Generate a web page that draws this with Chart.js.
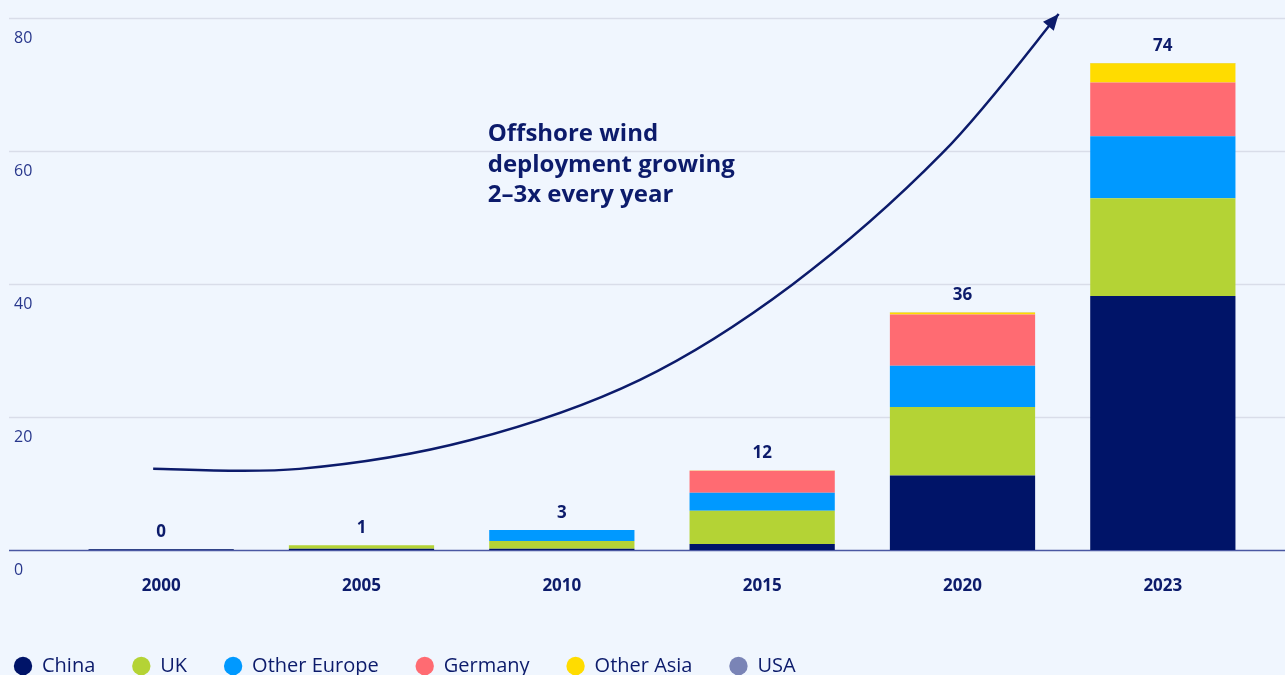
<!DOCTYPE html>
<html>
<head>
<meta charset="utf-8">
<script src="https://cdn.jsdelivr.net/npm/chart.js@4.4.1/dist/chart.umd.min.js"></script>
<style>
  html, body { margin: 0; padding: 0; background: #f0f6fe; overflow: hidden; }
</style>
</head>
<body>
<canvas id="graphic" width="1285" height="686"></canvas>
<script>
const years = ["2000", "2005", "2010", "2015", "2020", "2023"]
const totals = ["0", "1", "3", "12", "36", "74"]
const yTicks = [0, 20, 40, 60, 80]

const china = [0.1, 0.2, 0.2, 0.9, 11.2, 38.2]
const uk = [0, 0.5, 1.15, 5.0, 10.3, 14.7]
const otherEurope = [0, 0, 1.65, 2.7, 6.2, 9.3]
const germany = [0, 0, 0, 3.3, 7.7, 8.1]
const otherAsia = [0, 0, 0, 0.05, 0.3, 2.9]
const usa = [0, 0, 0, 0, 0.05, 0.04]

const noteLines = ["Offshore wind", "deployment growing", "2\u20133x every year"]

const navy = "#0c1b6b"
const font = "'Open Sans', sans-serif"

// arrow path, in (category index, GW) units
const arrowPath = [
  [-0.04, 12.2], [0.69, 12.2], [1.54, 16.5], [2.39, 25.6],
  [3.15, 39.9], [3.90, 59.7], [4.48, 80.6]
]

const overlay = {
  id: "overlay",
  beforeDraw(chart) {
    // move the legend so the first dot lines up with the y labels
    const pad = chart.options.plugins.legend.labels.padding
    chart.legend.left = 14 - pad
  },
  beforeDatasetsDraw(chart) {
    const ctx = chart.ctx
    const y = chart.scales.y
    ctx.save()
    yTicks.forEach(v => {
      const py = Math.round(y.getPixelForValue(v)) + 0.5
      ctx.beginPath()
      ctx.moveTo(9, py)
      ctx.lineTo(chart.width, py)
      ctx.strokeStyle = v === 0 ? "#4a58a2" : "#d9dde9"
      ctx.lineWidth = 1.5
      ctx.stroke()
    })
    ctx.restore()
  },
  afterDatasetsDraw(chart) {
    const ctx = chart.ctx
    const x = chart.scales.x
    const y = chart.scales.y
    ctx.save()

    // totals above bars
    ctx.fillStyle = navy
    ctx.font = "bold 17px " + font
    ctx.textAlign = "center"
    ctx.textBaseline = "middle"
    years.forEach((yr, i) => {
      const sum = china[i] + uk[i] + otherEurope[i] + germany[i] + otherAsia[i] + usa[i]
      ctx.fillText(totals[i], x.getPixelForValue(i), y.getPixelForValue(sum) - 17)
    })

    // note
    ctx.font = "bold 24px " + font
    ctx.textAlign = "left"
    const nx = x.getPixelForValue(1.63)
    const ny = y.getPixelForValue(62.5)
    noteLines.forEach((t, k) => ctx.fillText(t, nx, ny + k * 30.5))

    // curved arrow
    const pts = arrowPath.map(p => [x.getPixelForValue(p[0]), y.getPixelForValue(p[1])])
    ctx.strokeStyle = navy
    ctx.fillStyle = navy
    ctx.lineWidth = 2.5
    ctx.beginPath()
    ctx.moveTo(pts[0][0], pts[0][1])
    for (let i = 0; i < pts.length - 1; i++) {
      const p0 = pts[Math.max(i - 1, 0)]
      const p1 = pts[i]
      const p2 = pts[i + 1]
      const p3 = pts[Math.min(i + 2, pts.length - 1)]
      ctx.bezierCurveTo(
        p1[0] + (p2[0] - p0[0]) / 6, p1[1] + (p2[1] - p0[1]) / 6,
        p2[0] - (p3[0] - p1[0]) / 6, p2[1] - (p3[1] - p1[1]) / 6,
        p2[0], p2[1]
      )
    }
    ctx.stroke()
    const tip = pts[pts.length - 1]
    const prev = pts[pts.length - 2]
    const ang = Math.atan2(tip[1] - prev[1], tip[0] - prev[0])
    ctx.beginPath()
    ctx.moveTo(tip[0], tip[1])
    ctx.lineTo(tip[0] - 16 * Math.cos(ang) + 7 * Math.sin(ang), tip[1] - 16 * Math.sin(ang) - 7 * Math.cos(ang))
    ctx.lineTo(tip[0] - 16 * Math.cos(ang) - 7 * Math.sin(ang), tip[1] - 16 * Math.sin(ang) + 7 * Math.cos(ang))
    ctx.closePath()
    ctx.fill()
    ctx.restore()
  }
}

const graphic = document.querySelector("#graphic")
const chart = new Chart(graphic, {
  type: "bar",
  data: {
    labels: years,
    datasets: [
      { label: "China", data: china, backgroundColor: "#001468" },
      { label: "UK", data: uk, backgroundColor: "#b4d335" },
      { label: "Other Europe", data: otherEurope, backgroundColor: "#0099ff" },
      { label: "Germany", data: germany, backgroundColor: "#ff6b72" },
      { label: "Other Asia", data: otherAsia, backgroundColor: "#ffdc00" },
      { label: "USA", data: usa, backgroundColor: "#7a84b6" },
    ],
  },
  options: {
    responsive: false,
    animation: false,
    layout: { padding: { top: 18, left: 14, right: 22, bottom: 0 } },
    datasets: { bar: { categoryPercentage: 1, barPercentage: 0.725, borderWidth: 0 } },
    scales: {
      x: {
        stacked: true,
        grid: { display: false },
        border: { display: false },
        ticks: { color: navy, font: { family: font, size: 17, weight: "bold" }, padding: 18 },
        afterFit(scale) { scale.height = 69 },
      },
      y: {
        stacked: true,
        min: 0,
        max: 80,
        grid: { display: false },
        border: { display: false },
        ticks: {
          stepSize: 20,
          color: "#28378c",
          font: { family: font, size: 16 },
          crossAlign: "far",
          labelOffset: 20,
        },
        afterFit(scale) { scale.width = 47 },
      },
    },
    plugins: {
      legend: {
        position: "bottom",
        align: "start",
        labels: {
          usePointStyle: true,
          pointStyle: "circle",
          boxWidth: 18,
          boxHeight: 13,
          padding: 37,
          color: navy,
          font: { family: font, size: 20 },
        },
      },
      tooltip: { enabled: false },
    },
  },
  plugins: [overlay],
})
</script>
</body>
</html>
